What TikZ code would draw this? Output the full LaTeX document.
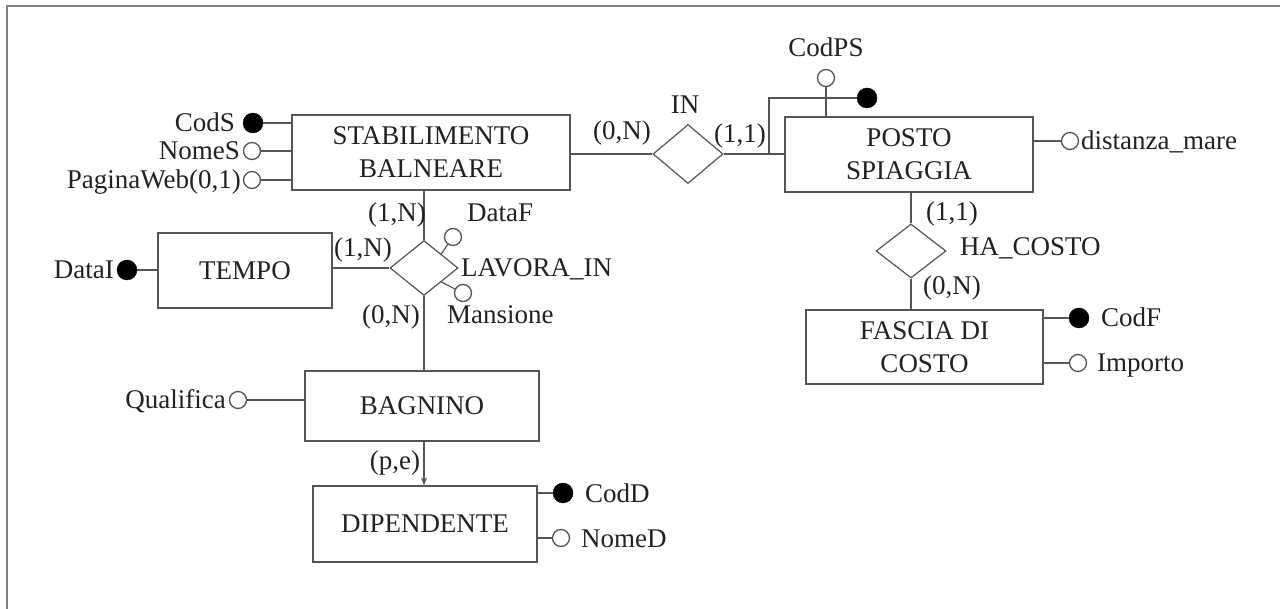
\documentclass[tikz,border=0pt]{standalone}
\usepackage{fontspec}
\setmainfont{Liberation Serif}
\usetikzlibrary{shapes.geometric,arrows.meta}
\definecolor{linec}{HTML}{555555}
\definecolor{txtc}{HTML}{222222}
\newcommand{\erfnt}{\fontsize{27}{33}\selectfont}
\begin{document}
\begin{tikzpicture}[x=1pt,y=-1pt,
  ent/.style={draw=linec, line width=1.3pt, rectangle, align=center, inner sep=0pt, text=txtc, font=\erfnt},
  rel/.style={draw=linec, line width=1.2pt, diamond, inner sep=0pt},
  keyatt/.style={circle, draw=black, fill=black, minimum size=20pt, inner sep=0pt},
  att/.style={circle, draw=linec, fill=white, line width=1.3pt, minimum size=17pt, inner sep=0pt},
  lab/.style={text=txtc, font=\erfnt, inner sep=0pt, text height=18pt, text depth=0pt},
  conn/.style={draw=linec, line width=1.2pt}]
\useasboundingbox (0,0) rectangle (1280,609);
\draw[draw=black!50, line width=2pt] (7,612) -- (7,6) -- (1283,6);

% entities
\node[ent, minimum width=278pt, minimum height=75pt] (stab) at (431,152.5) {STABILIMENTO\\BALNEARE};
\node[ent, minimum width=248pt, minimum height=75pt] (posto) at (909,154.5) {POSTO\\SPIAGGIA};
\node[ent, minimum width=174pt, minimum height=75pt] (tempo) at (245,270.5) {TEMPO};
\node[ent, minimum width=237pt, minimum height=74pt] (fascia) at (924.5,347) {FASCIA DI\\COSTO};
\node[ent, minimum width=234pt, minimum height=70pt] (bag) at (422,406) {BAGNINO};
\node[ent, minimum width=224pt, minimum height=76pt] (dip) at (425,524) {DIPENDENTE};

% relationships
\node[rel, minimum width=70pt, minimum height=59pt] (in) at (688,154) {};
\node[rel, minimum width=68pt, minimum height=55pt] (lav) at (424,268) {};
\node[rel, minimum width=70pt, minimum height=54pt] (ha) at (911,251) {};

% attributes
\node[keyatt] (cods) at (253,123) {};
\node[att] (nomes) at (252,151) {};
\node[att] (pagw) at (252,180) {};
\node[att] (codps) at (826,78) {};
\node[keyatt] (codpsk) at (867,98) {};
\node[att] (dist) at (1070,141) {};
\node[keyatt] (codf) at (1079,318) {};
\node[att] (imp) at (1078,363) {};
\node[keyatt] (datai) at (127,270) {};
\node[att] (dataf) at (453,237) {};
\node[att] (mans) at (463,293) {};
\node[att] (qual) at (238,400) {};
\node[keyatt] (codd) at (563,493) {};
\node[att] (nomed) at (561,538) {};
\coordinate (j) at (769,154);

% connectors
\draw[conn] (cods) -- (cods -| stab.west);
\draw[conn] (nomes) -- (nomes -| stab.west);
\draw[conn] (pagw) -- (pagw -| stab.west);
\draw[conn] (in.west) -- (in.west -| stab.east);
\draw[conn] (in.east) -- (in.east -| posto.west);
\draw[conn] (j) |- (codpsk);
\draw[conn] (codps) -- (codps |- posto.north);
\draw[conn] (dist) -- (dist -| posto.east);
\draw[conn] (ha.north) -- (ha.north |- posto.south);
\draw[conn] (ha.south) -- (ha.south |- fascia.north);
\draw[conn] (codf) -- (codf -| fascia.east);
\draw[conn] (imp) -- (imp -| fascia.east);
\draw[conn] (lav.north) -- (lav.north |- stab.south);
\draw[conn] (lav.west) -- (lav.west -| tempo.east);
\draw[conn] (datai) -- (datai -| tempo.west);
\draw[conn] (dataf) -- (lav.north east);
\draw[conn] (mans) -- (lav.south east);
\draw[conn] (lav.south) -- (lav.south |- bag.north);
\draw[conn] (qual) -- (qual -| bag.west);
\draw[conn, -{Stealth[length=8pt,width=6pt]}] (lav.south |- bag.south) -- (lav.south |- dip.north);
\draw[conn] (codd) -- (codd -| dip.east);
\draw[conn] (nomed) -- (nomed -| dip.east);

% labels
\node[lab, anchor=east] (tcods) at (235,123) {CodS};
\node[lab, anchor=east] (tnomes) at (240,151) {NomeS};
\node[lab, anchor=east] (tpagw) at (241,180) {PaginaWeb(0,1)};
\node[lab] (tcodps) at (826,48) {CodPS};
\node[lab, anchor=west] (tdist) at (1081,141) {distanza\_mare};
\node[lab, anchor=west] (tcodf) at (1101,318) {CodF};
\node[lab, anchor=west] (timp) at (1097,363) {Importo};
\node[lab, anchor=east] (tdatai) at (114,270) {DataI};
\node[lab, anchor=west] (tdataf) at (467,213) {DataF};
\node[lab, anchor=west] (tmans) at (447,315) {Mansione};
\node[lab, anchor=west] (tlav) at (461,268) {LAVORA\_IN};
\node[lab, anchor=east] (tqual) at (226,400) {Qualifica};
\node[lab, anchor=west] (tcodd) at (585,493) {CodD};
\node[lab, anchor=west] (tnomed) at (581,538) {NomeD};
\node[lab] (tin) at (685,105) {IN};
\node[lab, anchor=west] (tha) at (960,247) {HA\_COSTO};
\node[lab] (c1) at (622,131) {(0,N)};
\node[lab] (c2) at (740,134) {(1,1)};
\node[lab] (c3) at (397,213) {(1,N)};
\node[lab] (c4) at (363,248) {(1,N)};
\node[lab] (c5) at (391,315) {(0,N)};
\node[lab] (c6) at (952,212) {(1,1)};
\node[lab] (c7) at (952,286) {(0,N)};
\node[lab] (c8) at (395,460) {(p,e)};
\end{tikzpicture}
\end{document}
